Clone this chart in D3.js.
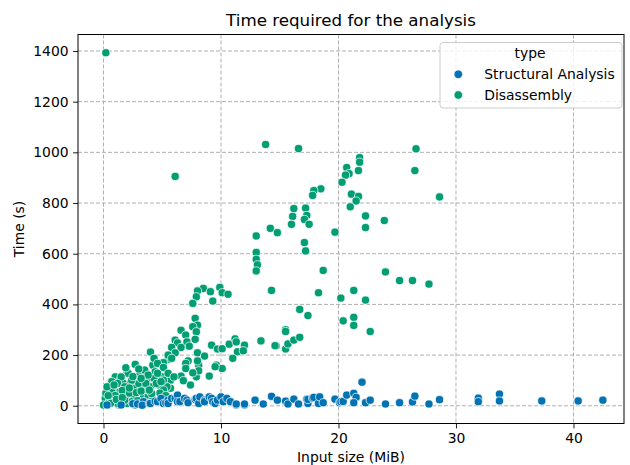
<!DOCTYPE html>
<html>
<head>
<meta charset="utf-8">
<script src="https://cdn.jsdelivr.net/npm/d3@7"></script>
<style>
  body { margin: 0; background: white; }
  text { font-family: "DejaVu Sans", sans-serif; }
</style>
</head>
<body>
<div id="chart"></div>
<script>
// Data
const seriesNames = ["Structural Analysis", "Disassembly"];
const seriesColors = ["#0173b2", "#029e73"];

const xTicks = [0, 10, 20, 30, 40];
const yTicks = [0, 200, 400, 600, 800, 1000, 1200, 1400];

// Structural Analysis: input size (MiB), time (s)
const structSize = [0.3, 1.5, 2.5, 2.9, 3.4, 3.3, 3.9, 4.0, 4.4, 4.6, 4.9, 5.1, 5.3, 5.5, 5.5, 5.8, 6.1,
  6.3, 6.3, 6.5, 6.9, 7.1, 7.2, 7.8, 7.9, 8.1, 8.2, 8.6, 8.6, 9.0, 9.2, 9.3, 9.5, 9.7, 10.0, 10.2, 10.5,
  10.8, 11.3, 11.3, 12.0, 12.0, 12.9, 13.6, 14.3, 14.8, 15.5, 15.7, 16.2, 16.6, 17.3, 17.4, 17.4, 17.8, 17.9, 18.3, 18.4,
  18.7, 19.7, 20.1, 20.2, 20.4, 20.7, 21.3, 21.5, 21.3, 22.0, 22.3, 22.7, 24.0, 25.2, 26.3, 26.5, 27.7, 28.6, 31.9, 31.9,
  33.7, 33.7, 37.3, 40.4, 42.5];
const structTime = [3, 3, 8, 7, 16, 2, 9, 9, 18, 16, 29, 9, 12, 22, 9, 29, 29,
  42, 16, 16, 29, 22, 12, 25, 29, 9, 35, 22, 16, 35, 29, 16, 9, 22, 35, 16, 29,
  16, 3, 7, 3, 7, 22, 7, 37, 22, 18, 7, 26, 7, 26, 9, 25, 30, 33, 9, 35,
  12, 26, 12, 16, 17, 42, 49, 33, 12, 93, 12, 22, 7, 12, 15, 38, 7, 24, 30, 16,
  46, 19, 19, 19, 22];

// Disassembly: input size (MiB), time (s)
const disasmSize = [0.2, 6.1, 13.8, 16.6, 26.6, 26.5, 28.6, 21.8, 21.8, 21.7, 20.7, 20.9, 20.6, 20.3, 18.5, 17.9, 17.8, 21.1, 21.7, 21.5,
  21.0, 16.2, 17.2, 16.1, 17.3, 17.1, 16.0, 17.5, 22.3, 23.9, 22.3, 14.2, 14.8, 13.0, 19.7, 17.1, 17.2, 13.0, 13.0, 13.1,
  13.0, 18.7, 24.0, 25.2, 26.3, 27.7, 14.3, 18.3, 21.3, 20.2, 22.3, 16.7, 17.4, 20.4, 21.3, 21.3, 22.7, 15.5, 15.5, 13.4,
  14.7, 15.5, 15.7, 16.2, 16.7, 14.6,
  8.5, 8.0, 9.1, 9.9, 10.1, 10.6, 7.9, 9.3, 7.6, 7.8, 8.0, 7.6, 7.9, 6.6, 7.0, 7.8, 6.1, 6.3, 7.1, 7.3,
  5.8, 6.6, 6.1, 9.2, 9.7, 10.1, 10.7, 11.2, 11.3, 12.0, 11.4, 11.9, 11.0, 8.0, 8.6, 5.5, 7.2, 8.1, 9.6, 10.1,
  9.5, 6.6, 7.9, 8.1, 5.2, 5.7, 6.8, 7.4, 5.7, 7.0, 7.0, 7.6, 9.0, 8.0,
  4.0, 2.7, 2.0, 3.1, 3.6, 4.2, 4.4, 5.1, 5.5, 3.7, 4.3, 5.0, 1.0, 1.3, 0.7, 1.7, 2.3, 2.7, 3.3, 4.0,
  4.7, 5.4, 0.9, 1.4, 1.9, 2.6, 3.4, 3.8, 0.7, 0.3, 1.3, 2.0, 2.7, 0.15, 4.3, 4.6, 5.1, 5.8, 3.5, 3.8,
  4.6, 5.5, 5.1, 6.0, 4.5, 4.0, 3.0, 2.4, 2.1, 1.5, 1.2, 1.8, 0.7, 0.2, 0.8, 1.5, 0.0, 0.4, 1.2, 2.4,
  1.8, 5.1, 3.6, 3.2, 0.5, 1.0, 1.6, 2.2, 2.9, 3.5, 4.2, 4.8, 0.3, 2.5, 3.0, 1.9,
  0.6, 1.1, 2.8, 3.2, 4.1, 4.9, 5.3, 0.9, 2.2, 3.9, 1.6, 0.4];
const disasmTime = [1393, 905, 1031, 1015, 1014, 928, 824, 979, 961, 928, 940, 916, 910, 882, 856, 849, 830, 835, 826, 808,
  785, 778, 780, 747, 751, 735, 716, 716, 749, 731, 703, 700, 683, 670, 685, 644, 611, 605, 578, 556,
  532, 534, 528, 494, 494, 480, 455, 446, 455, 425, 417, 380, 356, 335, 349, 317, 293, 300, 293, 256,
  236, 224, 244, 259, 270, 237,
  463, 453, 450, 467, 446, 440, 430, 413, 404, 345, 318, 312, 292, 298, 279, 262, 259, 248, 252, 235,
  230, 230, 209, 239, 224, 225, 243, 264, 252, 239, 213, 217, 187, 209, 196, 183, 177, 160, 160, 147,
  154, 117, 114, 138, 114, 101, 99, 82, 69, 167, 147, 130, 117, 177,
  212, 163, 134, 130, 134, 160, 134, 170, 200, 104, 108, 114, 114, 95, 95, 88, 88, 69, 75, 75,
  82, 75, 62, 55, 42, 35, 42, 35, 29, 3, 3, 9, 3, 29, 187, 167, 151, 187, 141, 121,
  128, 128, 101, 114, 88, 55, 88, 101, 128, 114, 88, 75, 55, 49, 29, 35, 3, 3, 9, 16,
  22, 62, 88, 108, 15, 40, 60, 50, 20, 15, 25, 50, 75, 115, 145, 150,
  10, 25, 52, 58, 48, 95, 40, 82, 70, 62, 32, 40];

const W = 630, H = 465;
const margin = { top: 34.5, right: 6, bottom: 41.5, left: 78 },
      width = W - margin.left - margin.right,
      height = H - margin.top - margin.bottom;

const svg = d3.select("#chart")
    .append("svg")
    .attr("width", W)
    .attr("height", H)
    .style("background-color", "white");

const g = svg.append("g")
    .attr("transform", `translate(${margin.left},${margin.top})`);

// Scales (matplotlib style 5% padding)
const x = d3.scaleLinear().domain([-2.17, 44.3]).range([0, width]);
const y = d3.scaleLinear().domain([-70, 1465]).range([height, 0]);

// Grid
g.append("g")
    .selectAll("line")
    .data(xTicks)
    .join("line")
    .attr("x1", d => x(d)).attr("x2", d => x(d))
    .attr("y1", 0).attr("y2", height)
    .attr("stroke", "#b0b0b0")
    .attr("stroke-width", 1)
    .attr("stroke-dasharray", "4,2");

g.append("g")
    .selectAll("line")
    .data(yTicks)
    .join("line")
    .attr("x1", 0).attr("x2", width)
    .attr("y1", d => y(d)).attr("y2", d => y(d))
    .attr("stroke", "#b0b0b0")
    .attr("stroke-width", 1)
    .attr("stroke-dasharray", "4,2");

// Points (disassembly first, structural analysis on top)
const structPts = structSize.map((d, i) => ({ x: d, y: structTime[i] }));
const disasmPts = disasmSize.map((d, i) => ({ x: d, y: disasmTime[i] }));

[[disasmPts, seriesColors[1]], [structPts, seriesColors[0]]].forEach(([pts, col]) => {
    g.append("g")
        .selectAll("circle")
        .data(pts)
        .join("circle")
        .attr("cx", d => x(d.x))
        .attr("cy", d => y(d.y))
        .attr("r", 4.1)
        .attr("fill", col)
        .attr("stroke", "white")
        .attr("stroke-width", 0.7);
});

// Axes
const xAxis = g.append("g")
    .attr("transform", `translate(0,${height})`)
    .call(d3.axisBottom(x).tickValues(xTicks).tickFormat(d3.format("d")).tickSize(4.9).tickPadding(4.5).tickSizeOuter(0));
const yAxis = g.append("g")
    .call(d3.axisLeft(y).tickValues(yTicks).tickFormat(d3.format("d")).tickSize(4.9).tickPadding(4.5).tickSizeOuter(0));

[xAxis, yAxis].forEach(a => {
    a.select(".domain").remove();
    a.selectAll("text").style("font-size", "13.9px").attr("fill", "#000");
    a.selectAll("line").attr("stroke", "#000").attr("stroke-width", 0.9);
});

// Frame
g.append("rect")
    .attr("width", width)
    .attr("height", height)
    .attr("fill", "none")
    .attr("stroke", "#000")
    .attr("stroke-width", 1);

// Title and axis labels
svg.append("text")
    .attr("x", margin.left + width / 2)
    .attr("y", 25.5)
    .attr("text-anchor", "middle")
    .style("font-size", "16.7px")
    .text("Time required for the analysis");

svg.append("text")
    .attr("x", margin.left + width / 2)
    .attr("y", 462)
    .attr("text-anchor", "middle")
    .style("font-size", "13.9px")
    .text("Input size (MiB)");

svg.append("text")
    .attr("text-anchor", "middle")
    .attr("transform", `translate(24,${margin.top + height / 2}) rotate(-90)`)
    .style("font-size", "13.9px")
    .text("Time (s)");

// Legend
const lg = svg.append("g").attr("transform", "translate(440,42.5)");
lg.append("rect")
    .attr("width", 182)
    .attr("height", 65.5)
    .attr("rx", 3)
    .attr("fill", "white")
    .attr("fill-opacity", 0.8)
    .attr("stroke", "#cccccc")
    .attr("stroke-width", 1);
lg.append("text")
    .attr("x", 90)
    .attr("y", 15)
    .attr("text-anchor", "middle")
    .style("font-size", "13.9px")
    .text("type");
seriesNames.forEach((name, i) => {
    lg.append("circle")
        .attr("cx", 18.3)
        .attr("cy", 31.8 + i * 20.7)
        .attr("r", 4.3)
        .attr("fill", seriesColors[i])
        .attr("stroke", "white")
        .attr("stroke-width", 0.7);
    lg.append("text")
        .attr("x", 44.3)
        .attr("y", 36.6 + i * 20.7)
        .style("font-size", "13.9px")
        .text(name);
});
</script>
</body>
</html>
